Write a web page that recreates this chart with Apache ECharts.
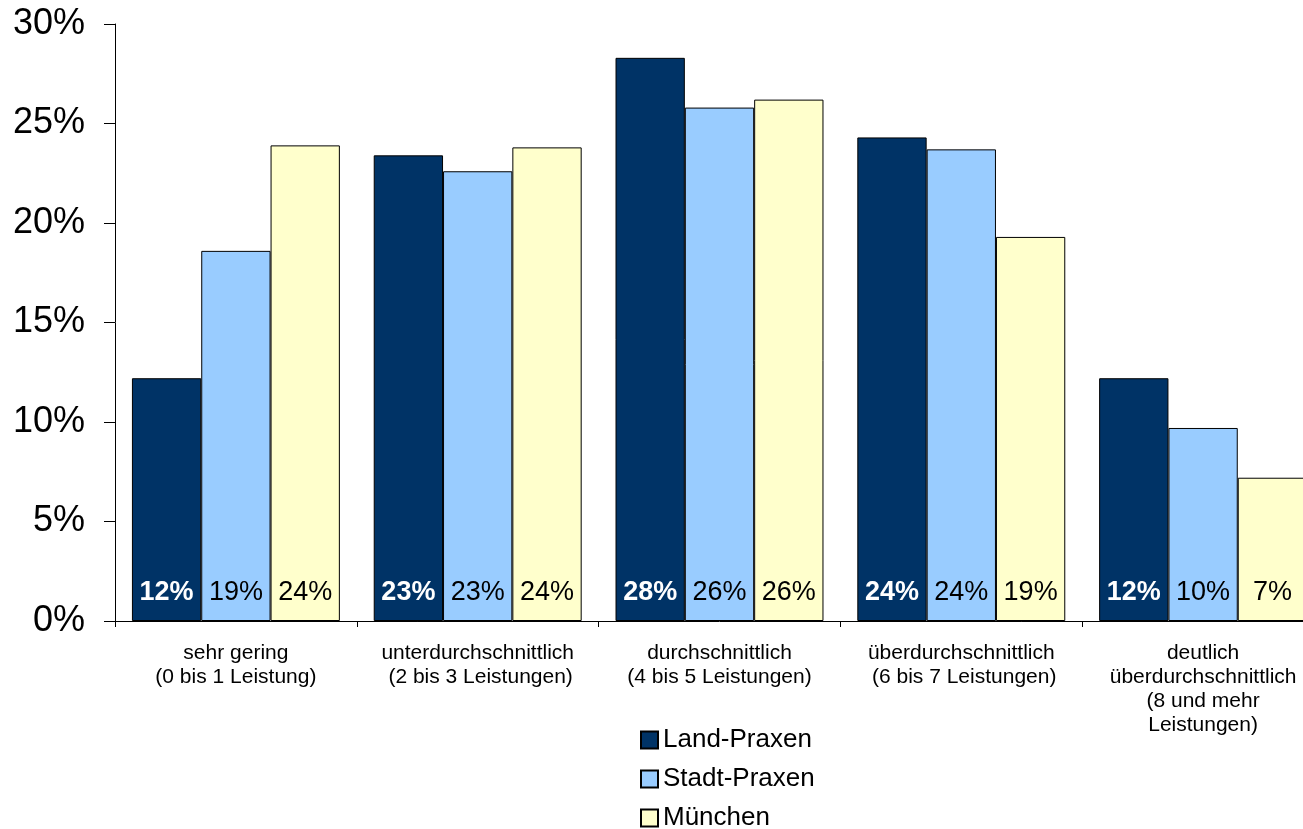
<!DOCTYPE html>
<html>
<head>
<meta charset="utf-8">
<style>
  html, body { margin: 0; padding: 0; background: #ffffff; overflow: hidden; }
  #chart { width: 1324px; height: 860px; }
</style>
<script src="https://cdn.jsdelivr.net/npm/echarts@6/dist/echarts.min.js"></script>
</head>
<body>
<div id="chart"></div>
<script>
// Anteil der Praxen nach Anzahl angebotener Leistungen (in %)
const categories = [
  'sehr gering\n(0 bis 1 Leistung)',
  'unterdurchschnittlich\n (2 bis 3 Leistungen)',
  'durchschnittlich\n(4 bis 5 Leistungen)',
  'überdurchschnittlich\n (6 bis 7 Leistungen)',
  'deutlich\nüberdurchschnittlich\n(8 und mehr\nLeistungen)'
];
const landPraxen  = [12.2, 23.4, 28.3, 24.3, 12.2];
const stadtPraxen = [18.6, 22.6, 25.8, 23.7, 9.7];
const muenchen    = [23.9, 23.8, 26.2, 19.3, 7.2];
const yTicks = { min: 0, max: 30, interval: 5 };

const FONT = '"Liberation Sans", Arial, sans-serif';

function barSeries(name, data, color, labelColor, labelWeight) {
  return {
    name: name,
    type: 'bar',
    data: data,
    barGap: '0%',
    barCategoryGap: '14%',
    itemStyle: { color: color, borderColor: '#000000', borderWidth: 1 },
    label: {
      show: true,
      position: 'insideBottom',
      distance: 15,
      fontFamily: FONT,
      fontSize: 27,
      color: labelColor,
      fontWeight: labelWeight,
      formatter: p => Math.round(p.value) + '%'
    }
  };
}

const chart = echarts.init(document.getElementById('chart'), null, { renderer: 'canvas' });
chart.setOption({
  animation: false,
  backgroundColor: '#ffffff',
  textStyle: { fontFamily: FONT },
  grid: { left: 115, right: 0, top: 24, bottom: 239, containLabel: false },
  legend: {
    orient: 'vertical',
    left: 640,
    top: 727,
    padding: 0,
    itemWidth: 17,
    itemHeight: 17,
    itemGap: 13,
    icon: 'rect',
    textStyle: { fontFamily: FONT, fontSize: 26, color: '#000000', lineHeight: 26 },
    data: ['Land-Praxen', 'Stadt-Praxen', 'München']
  },
  xAxis: {
    type: 'category',
    data: categories,
    axisLine: { lineStyle: { color: '#000000', width: 1 } },
    axisTick: { show: true, length: 6, lineStyle: { color: '#000000' } },
    axisLabel: { fontFamily: FONT, fontSize: 21, lineHeight: 24, color: '#000000', margin: 20, interval: 0 }
  },
  yAxis: {
    type: 'value',
    min: yTicks.min,
    max: yTicks.max,
    interval: yTicks.interval,
    splitLine: { show: false },
    axisLine: { show: true, lineStyle: { color: '#000000', width: 1 } },
    axisTick: { show: true, length: 11, lineStyle: { color: '#000000' } },
    axisLabel: { fontFamily: FONT, fontSize: 36, color: '#000000', margin: 30, formatter: '{value}%' }
  },
  series: [
    barSeries('Land-Praxen', landPraxen, '#003366', '#ffffff', 'bold'),
    barSeries('Stadt-Praxen', stadtPraxen, '#99ccff', '#000000', 'normal'),
    barSeries('München', muenchen, '#ffffcc', '#000000', 'normal')
  ]
});
</script>
</body>
</html>
